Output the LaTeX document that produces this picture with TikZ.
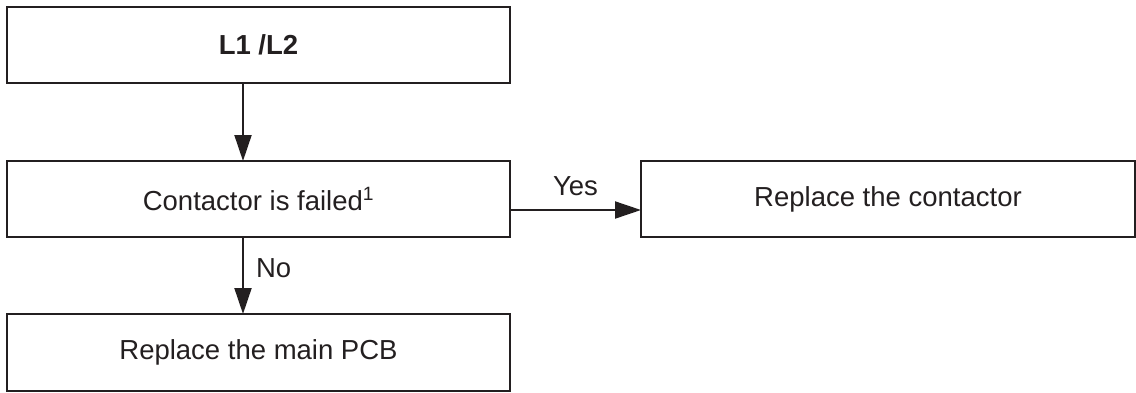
\documentclass[tikz,border=0pt]{standalone}
\usepackage{fontspec}
\setmainfont{Liberation Sans}
\usetikzlibrary{arrows.meta}
\definecolor{ink}{HTML}{231F20}
\begin{document}
\begin{tikzpicture}[x=1pt,y=-1pt,
  box/.style={draw=ink, line width=2.2pt, inner sep=0pt, outer sep=0pt,
    minimum height=76pt, text=ink, font=\fontsize{27.5}{33}\selectfont},
  arr/.style={draw=ink, line width=2pt, -{Triangle[length=26pt,width=17pt]}},
  lbl/.style={inner sep=0pt, text=ink, font=\fontsize{27.5}{33}\selectfont}]
\useasboundingbox (0,0) rectangle (1136,392);
\node[box, minimum width=503pt] (top) at (258.5,45) {\bfseries L1 /L2};
\node[box, minimum width=503pt] (mid) at (258.5,199) {Contactor is failed\textsuperscript{1}};
\node[box, minimum width=494pt] (rep) at (888,199) {Replace the contactor};
\node[box, minimum width=503pt, minimum height=77pt] (pcb) at (258.5,352.5) {Replace the main PCB};
\draw[arr] ([xshift=-15.5pt]top.south) -- ([xshift=-15.5pt]mid.north);
\draw[arr] ([yshift=-11pt]mid.east) -- node[lbl, midway, above=13pt] (yes) {Yes} ([yshift=-11pt]rep.west);
\draw[arr] ([xshift=-15.5pt]mid.south) -- node[lbl, midway, right=12pt, yshift=7.5pt] (no) {No} ([xshift=-15.5pt]pcb.north);
\end{tikzpicture}
\end{document}
